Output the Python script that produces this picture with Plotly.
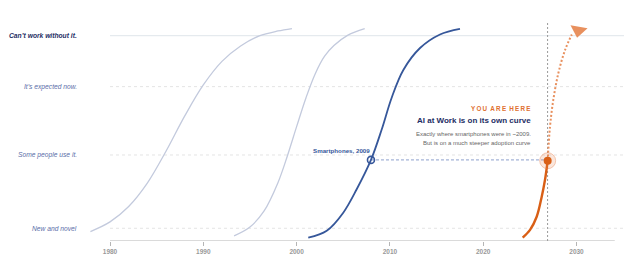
import plotly.graph_objects as go

# ---- data ----
levels = [100, 75.2, 41.9, 6.2]
level_labels = ["Can’t work without it.", "It’s expected now.", "Some people use it.", "New and novel"]

pc_years = [1977.9, 1980.0, 1982.0, 1984.0, 1986.0, 1988.0, 1990.0, 1992.0, 1994.0, 1996.0, 1998.0, 1999.5]
pc_vals = [4.6, 9.3, 16.8, 28.2, 43.7, 60.8, 76.0, 87.5, 95.0, 99.9, 102.3, 103.5]

net_years = [1993.3, 1995.0, 1996.5, 1998.0, 1999.0, 2000.0, 2001.0, 2002.0, 2003.0, 2004.0, 2005.5, 2007.3]
net_vals = [2.5, 6.8, 14.5, 28.4, 41.3, 55.7, 69.7, 81.5, 90.0, 95.2, 100.3, 103.5]

sp_years = [2001.25, 2003.23, 2005.0, 2006.44, 2007.97, 2009.12, 2010.19, 2011.44, 2013.23, 2015.37, 2017.51]
sp_vals = [1.6, 5.0, 13.8, 25.2, 39.5, 54.3, 69.8, 83.3, 94.0, 100.6, 103.3]

ai_years = [2024.23, 2025.02, 2025.73, 2026.27, 2026.62, 2026.91]
ai_vals = [1.6, 5.4, 11.8, 21.6, 29.7, 39.1]

ai_proj_years = [2026.91, 2027.16, 2027.51, 2028.05, 2028.77, 2029.5]
ai_proj_vals = [39.1, 55.7, 68.7, 81.7, 93.0, 100.6]
arrow_year, arrow_val = 2030.2, 102.6

sp_marker_year, sp_marker_val = 2007.97, 39.5
now_year = 2026.9
tick_years = [1980, 1990, 2000, 2010, 2020, 2030]
axis_start, axis_end = 1980, 2034.1

FONT = "Liberation Sans, Arial, sans-serif"
NAVY = "#1e2d64"
MID = "#5a6ea8"
LIGHT = "#c3cadd"
SPBLUE = "#36579a"
ORANGE = "#d95f16"
ORANGE_L = "#e8905e"

fig = go.Figure()

# level grid lines
for i, lv in enumerate(levels):
    fig.add_trace(go.Scatter(
        x=[axis_start, 2035.09], y=[lv, lv], mode="lines", hoverinfo="skip",
        line=dict(color="#dfe5ea" if i == 0 else "#e4e4e4", width=1,
                  dash="solid" if i == 0 else "dot"), showlegend=False))

# axis line
fig.add_trace(go.Scatter(x=[axis_start, axis_end], y=[0, 0], mode="lines",
                         line=dict(color="#b5b5b5", width=1.2), hoverinfo="skip", showlegend=False))

# now line
fig.add_trace(go.Scatter(x=[now_year, now_year], y=[0, 106.7], mode="lines",
                         line=dict(color="#9a9a9a", width=1, dash="2px,2px"), hoverinfo="skip", showlegend=False))

# connector dashed
fig.add_trace(go.Scatter(x=[sp_marker_year, now_year], y=[sp_marker_val, sp_marker_val], mode="lines",
                         line=dict(color="#8d9fcc", width=1, dash="3px,2px"), hoverinfo="skip", showlegend=False))

fig.add_trace(go.Scatter(x=pc_years, y=pc_vals, mode="lines", line=dict(color=LIGHT, width=1.3, shape="spline"), showlegend=False))
fig.add_trace(go.Scatter(x=net_years, y=net_vals, mode="lines", line=dict(color=LIGHT, width=1.3, shape="spline"), showlegend=False))
fig.add_trace(go.Scatter(x=sp_years, y=sp_vals, mode="lines", line=dict(color=SPBLUE, width=1.8, shape="spline"), showlegend=False))

# AI projection dotted + arrow head
fig.add_trace(go.Scatter(x=ai_proj_years, y=ai_proj_vals, mode="lines",
                         line=dict(color=ORANGE_L, width=2, dash="2px,2px", shape="spline"), showlegend=False))
fig.add_trace(go.Scatter(x=[arrow_year], y=[arrow_val], mode="markers",
                         marker=dict(symbol="triangle-down", size=15, angle=10, color=ORANGE_L,
                                     line=dict(width=0)), showlegend=False))

fig.add_trace(go.Scatter(x=ai_years, y=ai_vals, mode="lines", line=dict(color=ORANGE, width=2.4, shape="spline"), showlegend=False))

# markers
fig.add_trace(go.Scatter(x=[sp_marker_year], y=[sp_marker_val], mode="markers",
                         marker=dict(symbol="circle-open", size=7, color=SPBLUE, line=dict(width=1.6)), showlegend=False))
fig.add_trace(go.Scatter(x=[ai_years[-1]], y=[ai_vals[-1]], mode="markers",
                         marker=dict(size=16, color="rgba(232,130,80,0.2)", line=dict(color="rgba(232,130,80,0.4)", width=1)),
                         showlegend=False))
fig.add_trace(go.Scatter(x=[ai_years[-1]], y=[ai_vals[-1]], mode="markers",
                         marker=dict(size=8, color=ORANGE), showlegend=False))

ann = []
# level labels
for i, (lv, lab) in enumerate(zip(levels, level_labels)):
    txt = f"<b><i>{lab}</i></b>" if i == 0 else f"<i>{lab}</i>"
    ann.append(dict(x=1976.7, y=lv, text=txt, xanchor="right", yanchor="middle", showarrow=False,
                    font=dict(family=FONT, size=6.7, color=NAVY if i == 0 else MID)))

top_y = 110.3
ann += [
    dict(x=1996.8, y=top_y, text="<b>Personal computer (PC)</b>", font=dict(size=7.5, color=MID)),
    dict(x=2004.0, y=top_y, text="<b>The internet</b>", font=dict(size=7.5, color=MID)),
    dict(x=2014.7, y=top_y, text="<b>Smartphones</b>", font=dict(size=7.5, color=NAVY)),
    dict(x=now_year, y=top_y, text="<b>2026</b>", font=dict(size=7.5, color="#777777")),
    dict(x=2031.2, y=top_y, text="<b>AI</b>", font=dict(size=7.5, color=ORANGE)),
]
for a in ann[-5:]:
    a.update(xanchor="center", yanchor="middle", showarrow=False)
    a["font"]["family"] = FONT

ann.append(dict(x=2008.1, y=44.3, text="<b>Smartphones, 2009</b>", xanchor="right", yanchor="middle",
                showarrow=False, font=dict(family=FONT, size=6.2, color=SPBLUE)))

rx = 2025.3
ann += [
    dict(x=rx, y=64.6, text="<b>Y\u2009O\u2009U\u2002A\u2009R\u2009E\u2002H\u2009E\u2009R\u2009E</b>",
         font=dict(family=FONT, size=6.3, color="#e07030")),
    dict(x=rx, y=58.5, text="<b>AI at Work is on its own curve</b>", font=dict(family=FONT, size=8, color=NAVY)),
    dict(x=rx, y=51.9, text="Exactly where smartphones were in ~2009.", font=dict(family=FONT, size=6, color="#666666")),
    dict(x=rx, y=47.5, text="But is on a much steeper adoption curve", font=dict(family=FONT, size=6, color="#666666")),
]
for a in ann[-4:]:
    a.update(xanchor="right", yanchor="middle", showarrow=False)

fig.update_layout(
    width=624, height=265, margin=dict(l=0, r=0, t=20, b=24),
    paper_bgcolor="white", plot_bgcolor="white",
    annotations=ann, showlegend=False,
    xaxis=dict(range=[1968.21, 2035.09], showgrid=False, zeroline=False, showline=False,
               tickvals=tick_years, ticktext=[f"<b>{t}</b>" for t in tick_years],
               ticks="outside", ticklen=4, tickcolor="#b5b5b5", tickwidth=1,
               tickfont=dict(family=FONT, size=6.5, color="#999999")),
    yaxis=dict(range=[0, 107.65], visible=False),
)
fig.write_html("out.html")
